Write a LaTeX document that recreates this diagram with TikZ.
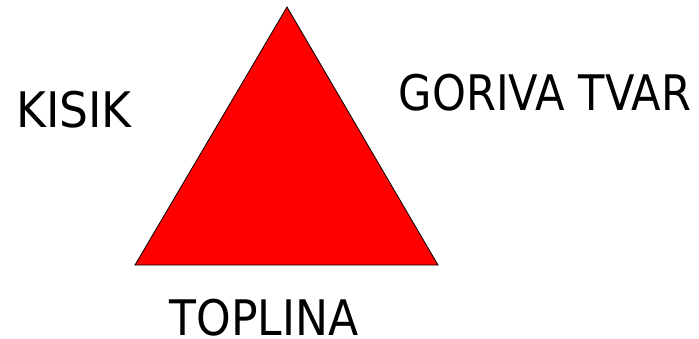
\documentclass[tikz,border=0pt]{standalone}
\usepackage{fontspec}
\setmainfont{DejaVu Sans}
\tikzset{
  lbl/.style={anchor=base, inner sep=0pt, text depth=0pt, font=\fontsize{49}{55}\selectfont},
  tri/.style={draw=black, line width=0.8pt, fill=red, line join=miter}
}
\newcommand{\narrowtext}[2][0.88]{\scalebox{#1}[1]{#2}}
\begin{document}
\begin{tikzpicture}[x=1pt,y=-1pt]
\useasboundingbox (0,0) rectangle (699,338);
\coordinate (top) at (287,7);
\coordinate (bl) at (135,265);
\coordinate (br) at (438,265);
\draw[tri] (top) -- (br) -- (bl) -- cycle;
\node[lbl] (kisik) at (74,127) {\narrowtext[0.93]{KISIK}};
\node[lbl] (gorivo) at (545,110) {\narrowtext{GORIVA TVAR}};
\node[lbl] (toplina) at (264,335) {\narrowtext[0.9]{TOPLINA}};
\end{tikzpicture}
\end{document}
